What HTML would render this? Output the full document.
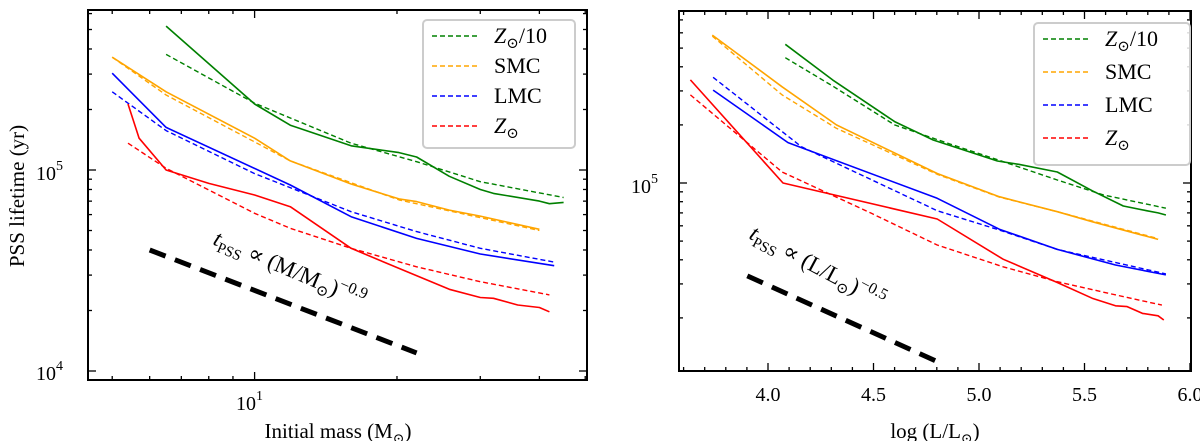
<!DOCTYPE html>
<html><head><meta charset="utf-8"><style>
html,body{margin:0;padding:0;background:#fff}
svg{display:block;font-family:"Liberation Serif","DejaVu Serif",serif}
</style></head><body>
<svg id="fig" width="1200" height="441" viewBox="0 0 1200 441" xmlns="http://www.w3.org/2000/svg">
<g id="left"></g>
<g id="right"></g>
</svg>
<script>
// ---- Left panel data (initial mass in Msun, lifetime in yr) ----
const greenSolidM = [6.5,10,11.9,16,20.2,22,25.8,30,32,40,42,45];
const greenSolidT = [5.2e5,2.13e5,1.67e5,1.32e5,1.22e5,1.16e5,0.93e5,0.80e5,0.765e5,0.70e5,0.68e5,0.69e5];
const greenDashM = [6.5,10,16,22,30,45];
const greenDashT = [3.76e5,2.15e5,1.36e5,1.1e5,0.875e5,0.73e5];
const orangeSolidM = [5,6.5,10,11.9,16,20.2,22,25.8,30,40];
const orangeSolidT = [3.64e5,2.45e5,1.44e5,1.11e5,0.852e5,0.718e5,0.696e5,0.632e5,0.59e5,0.507e5];
const orangeDashM = [5,6.5,10,11.9,20.2,40];
const orangeDashT = [3.64e5,2.36e5,1.38e5,1.11e5,0.71e5,0.50e5];
const blueSolidM = [5,6.5,11.9,16,22,30,43];
const blueSolidT = [3.03e5,1.63e5,0.842e5,0.586e5,0.457e5,0.382e5,0.334e5];
const blueDashM = [5,6.5,10,16,22,30,43];
const blueDashT = [2.45e5,1.57e5,0.96e5,0.62e5,0.494e5,0.408e5,0.348e5];
const redSolidM = [5.4,5.7,6.5,8.0,10,11.9,16,20.2,25.8,30,32,36,40,42];
const redSolidT = [2.13e5,1.44e5,1.0e5,0.858e5,0.751e5,0.657e5,0.408e5,0.324e5,0.255e5,0.232e5,0.23e5,0.213e5,0.207e5,0.197e5];
const redDashM = [5.4,6.5,10,11.9,16,22,30,42];
const redDashT = [1.36e5,1.02e5,0.609e5,0.513e5,0.408e5,0.33e5,0.278e5,0.239e5];
const refLeftM = [6,22];
const refLeftT = [4.0e4,1.23e4];
const xTicksLeft = [5,6,7,8,9,10,20,30,40,50];

// ---- Right panel data (log L/Lsun, lifetime in yr) ----
const gSolL = [4.082,4.306,4.60,4.783,5.087,5.188,5.371,5.536,5.684,5.794,5.849,5.886];
const gSolT = [5.23e5,3.42e5,2.08e5,1.67e5,1.30e5,1.25e5,1.14e5,0.912e5,0.76e5,0.719e5,0.70e5,0.683e5];
const gDasL = [4.082,4.306,4.60,4.857,5.087,5.371,5.591,5.886];
const gDasT = [4.46e5,3.18e5,2.0e5,1.60e5,1.32e5,1.036e5,0.867e5,0.74e5];
const oSolL = [3.736,4.067,4.324,4.802,5.096,5.371,5.536,5.849];
const oSolT = [5.84e5,3.15e5,2.0e5,1.12e5,0.849e5,0.71e5,0.63e5,0.51e5];
const oDasL = [3.736,4.067,4.324,4.802,5.096,5.371,5.849];
const oDasT = [5.77e5,2.86e5,1.92e5,1.11e5,0.845e5,0.71e5,0.515e5];
const bSolL = [3.740,4.095,4.802,5.096,5.371,5.647,5.886];
const bSolT = [3.03e5,1.62e5,0.833e5,0.576e5,0.453e5,0.376e5,0.334e5];
const bDasL = [3.740,4.159,4.802,5.096,5.371,5.886];
const bDasT = [3.53e5,1.54e5,0.719e5,0.571e5,0.453e5,0.338e5];
const rSolL = [3.632,4.071,4.802,5.114,5.371,5.536,5.647,5.702,5.775,5.849,5.876];
const rSolT = [3.42e5,1.0e5,0.651e5,0.403e5,0.305e5,0.253e5,0.231e5,0.229e5,0.211e5,0.205e5,0.195e5];
const rDasL = [3.632,4.067,4.490,4.802,5.114,5.371,5.628,5.867];
const rDasT = [2.86e5,1.14e5,0.697e5,0.477e5,0.368e5,0.308e5,0.266e5,0.233e5];
const refRightL = [3.902,4.793];
const refRightT = [3.3e4,1.2e4];
const xTicksRight = [4.0,4.5,5.0,5.5,6.0];
const legendLabels = ["Z⊙/10","SMC","LMC","Z⊙"];
const legendColors = ["#008000","#ffa500","#0000ff","#ff0000"];

const NS = "http://www.w3.org/2000/svg";
function mk(tag, attrs, parent){const e=document.createElementNS(NS,tag);for(const k in attrs)e.setAttribute(k,attrs[k]);parent.appendChild(e);return e;}

const L = {x0:88,x1:587,y0:10,y1:380};
const lx = m => 254.6 + 473*(Math.log10(m)-1);
const ly = t => 170 - 201*(Math.log10(t)-5);
const R = {x0:679,x1:1191,y0:11,y1:371};
const rx = v => 768 + 211*(v-4);
const ry = t => 183 - 193*(Math.log10(t)-5);

function pathD(xs, ys, fx, fy){return xs.map((v,i)=>(i?'L':'M')+fx(v).toFixed(1)+','+fy(ys[i]).toFixed(1)).join(' ');}

function series(g, xs, ys, fx, fy, color, dashed, name){
  const p = mk('path',{d:pathD(xs,ys,fx,fy),fill:'none',stroke:color,'stroke-width':dashed?1.4:1.6,'stroke-dasharray':dashed?'5,3':'none','stroke-linejoin':'round'},g);
  
  
}

function frame(g, B, name){
  const r = mk('rect',{x:B.x0,y:B.y0,width:B.x1-B.x0,height:B.y1-B.y0,fill:'none',stroke:'#000','stroke-width':2},g);
  
  
}
function hTick(g,B,y,len){
  mk('line',{x1:B.x0,x2:B.x0+len,y1:y,y2:y,stroke:'#000','stroke-width':1.3},g);
  mk('line',{x1:B.x1,x2:B.x1-len,y1:y,y2:y,stroke:'#000','stroke-width':1.3},g);
}
function vTick(g,B,x,len){
  mk('line',{x1:x,x2:x,y1:B.y1,y2:B.y1-len,stroke:'#000','stroke-width':1.3},g);
  mk('line',{x1:x,x2:x,y1:B.y0,y2:B.y0+len,stroke:'#000','stroke-width':1.3},g);
}

function legendHTML(i){
  if(i==0) return '<tspan font-style="italic">Z</tspan><tspan font-size="15" dy="5">⊙</tspan><tspan dy="-5">/10</tspan>';
  if(i==3) return '<tspan font-style="italic">Z</tspan><tspan font-size="15" dy="5">⊙</tspan>';
  return legendLabels[i];
}
function legend(g, x, y, w, h, step, name){
  const lg = mk('g',{},g);
  
  
  mk('rect',{x:x,y:y,width:w,height:h,rx:4,fill:'#fff','fill-opacity':0.85,stroke:'#ccc','stroke-width':2},lg);
  legendLabels.forEach((lab,i)=>{
    const yy = y+16+i*step;
    const e = mk('g',{},lg);
    
    
    mk('line',{x1:x+9,x2:x+54,y1:yy,y2:yy,stroke:legendColors[i],'stroke-width':1.4,'stroke-dasharray':'5,3'},e);
    const t = mk('text',{x:x+71,y:yy+7,'font-size':22},e);
    t.innerHTML = legendHTML(i);
  });
}

// ---------- LEFT ----------
const gl = document.getElementById('left');
for(let d=4; d<=5; d++) for(let k=1;k<=9;k++){
  const t=k*Math.pow(10,d); const y=ly(t);
  if(y<L.y0||y>L.y1) continue;
  hTick(gl,L,y,k==1?8:4);
}
xTicksLeft.forEach(m=>{const x=lx(m); if(x>L.x0&&x<L.x1) vTick(gl,L,x,m==10?8:4);});
series(gl,greenDashM,greenDashT,lx,ly,'#008000',true,'line-zsun10-fit');
series(gl,greenSolidM,greenSolidT,lx,ly,'#008000',false,'line-zsun10');
series(gl,orangeDashM,orangeDashT,lx,ly,'#ffa500',true,'line-smc-fit');
series(gl,orangeSolidM,orangeSolidT,lx,ly,'#ffa500',false,'line-smc');
series(gl,blueDashM,blueDashT,lx,ly,'#0000ff',true,'line-lmc-fit');
series(gl,blueSolidM,blueSolidT,lx,ly,'#0000ff',false,'line-lmc');
series(gl,redDashM,redDashT,lx,ly,'#ff0000',true,'line-zsun-fit');
series(gl,redSolidM,redSolidT,lx,ly,'#ff0000',false,'line-zsun');
const refl = mk('path',{d:pathD(refLeftM,refLeftT,lx,ly),stroke:'#000','stroke-width':5,'stroke-dasharray':'17,10',fill:'none'},gl);


frame(gl,L,'left-plot-frame');
legend(gl,423,20,152,128,30,'left-legend');
let t;
t = mk('text',{x:212,y:244,'font-size':23,transform:'rotate(23 212 244)'},gl);


t.innerHTML = '<tspan font-style="italic">t</tspan><tspan font-size="15" dy="5">PSS</tspan><tspan dy="-5"> ∝ (M/M</tspan><tspan font-size="15" dy="5">⊙</tspan><tspan dy="-5">)</tspan><tspan font-size="16" dy="-9">−0.9</tspan>';
t = mk('text',{x:36,y:180,'font-size':20},gl);


t.innerHTML='10<tspan font-size="14" dy="-10">5</tspan>';
t = mk('text',{x:36,y:380,'font-size':20},gl);


t.innerHTML='10<tspan font-size="14" dy="-10">4</tspan>';
t = mk('text',{x:236,y:410,'font-size':20},gl);


t.innerHTML='10<tspan font-size="14" dy="-10">1</tspan>';
t = mk('text',{x:338,y:438,'font-size':21,'text-anchor':'middle'},gl);


t.innerHTML='Initial mass (M<tspan font-size="14" dy="5">⊙</tspan><tspan dy="-5">)</tspan>';
t = mk('text',{x:0,y:0,'font-size':21,'text-anchor':'middle',transform:'translate(24 196) rotate(-90)'},gl);


t.textContent='PSS lifetime (yr)';

// ---------- RIGHT ----------
const gr = document.getElementById('right');
for(let d=4; d<=5; d++) for(let k=1;k<=9;k++){
  const tt=k*Math.pow(10,d); const y=ry(tt);
  if(y<R.y0||y>R.y1) continue;
  hTick(gr,R,y,k==1?8:4);
}
for(let v=3.6; v<=6.01; v+=0.1){
  const x=rx(v); if(x<=R.x0+1||x>=R.x1-1) continue;
  const major = Math.abs(v*2-Math.round(v*2))<1e-6;
  vTick(gr,R,x,major?8:4);
}
series(gr,gDasL,gDasT,rx,ry,'#008000',true,'line-zsun10-fit-r');
series(gr,gSolL,gSolT,rx,ry,'#008000',false,'line-zsun10-r');
series(gr,oDasL,oDasT,rx,ry,'#ffa500',true,'line-smc-fit-r');
series(gr,oSolL,oSolT,rx,ry,'#ffa500',false,'line-smc-r');
series(gr,bDasL,bDasT,rx,ry,'#0000ff',true,'line-lmc-fit-r');
series(gr,bSolL,bSolT,rx,ry,'#0000ff',false,'line-lmc-r');
series(gr,rDasL,rDasT,rx,ry,'#ff0000',true,'line-zsun-fit-r');
series(gr,rSolL,rSolT,rx,ry,'#ff0000',false,'line-zsun-r');
const refr = mk('path',{d:pathD(refRightL,refRightT,rx,ry),stroke:'#000','stroke-width':5,'stroke-dasharray':'17,10',fill:'none'},gr);


frame(gr,R,'right-plot-frame');
legend(gr,1034,23,156,142,33,'right-legend');
t = mk('text',{x:748,y:238,'font-size':23,transform:'rotate(28 748 238)'},gr);


t.innerHTML = '<tspan font-style="italic">t</tspan><tspan font-size="15" dy="5">PSS</tspan><tspan dy="-5"> ∝ (L/L</tspan><tspan font-size="15" dy="5">⊙</tspan><tspan dy="-5">)</tspan><tspan font-size="16" dy="-9">−0.5</tspan>';
t = mk('text',{x:631,y:193,'font-size':20},gr);


t.innerHTML='10<tspan font-size="14" dy="-10">5</tspan>';
xTicksRight.forEach(v=>{
  const tx = mk('text',{x:rx(v),y:401,'font-size':20,'text-anchor':'middle'},gr);
  
  
  tx.textContent=v.toFixed(1);
});
t = mk('text',{x:935,y:438,'font-size':21,'text-anchor':'middle'},gr);


t.innerHTML='log (L/L<tspan font-size="14" dy="5">⊙</tspan><tspan dy="-5">)</tspan>';
</script>
</body></html>
